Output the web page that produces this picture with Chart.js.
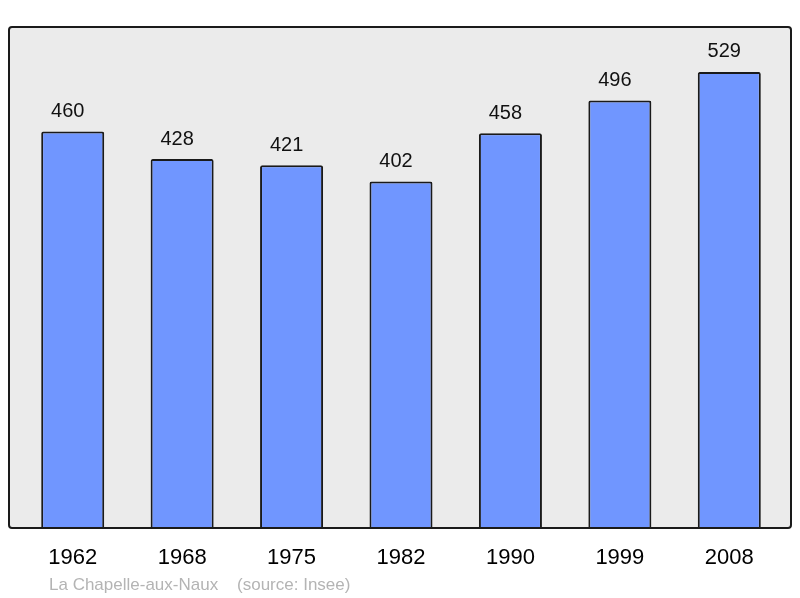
<!DOCTYPE html>
<html><head><meta charset="utf-8">
<script src="https://cdn.jsdelivr.net/npm/chart.js@4/dist/chart.umd.min.js"></script>
<style>html,body{margin:0;padding:0;background:#fff;}canvas{display:block;}</style>
</head><body>
<canvas id="c" width="800" height="598"></canvas>
<script>
const years = ["1962","1968","1975","1982","1990","1999","2008"];
const population = [460, 428, 421, 402, 458, 496, 529];
const footerText = "La Chapelle-aux-Naux    (source: Insee)";

const FONT = "'Liberation Sans', Arial, sans-serif";

function framePath(ctx) {
  const x0 = 9, y0 = 27, x1 = 791, y1 = 528, r = 3;
  ctx.beginPath();
  ctx.moveTo(x0 + r, y0);
  ctx.lineTo(x1 - r, y0);
  ctx.quadraticCurveTo(x1, y0, x1, y0 + r);
  ctx.lineTo(x1, y1 - r);
  ctx.quadraticCurveTo(x1, y1, x1 - r, y1);
  ctx.lineTo(x0 + r, y1);
  ctx.quadraticCurveTo(x0, y1, x0, y1 - r);
  ctx.lineTo(x0, y0 + r);
  ctx.quadraticCurveTo(x0, y0, x0 + r, y0);
  ctx.closePath();
}

const framePlugin = {
  id: 'frame',
  beforeDraw(chart) {
    const ctx = chart.ctx;
    ctx.save();
    framePath(ctx);
    ctx.fillStyle = '#ebebeb';
    ctx.fill();
    ctx.restore();
  },
  afterDatasetsDraw(chart) {
    const ctx = chart.ctx;
    ctx.save();
    framePath(ctx);
    ctx.lineWidth = 2;
    ctx.strokeStyle = '#1a1a1a';
    ctx.stroke();

    const meta = chart.getDatasetMeta(0);
    ctx.font = "20px " + FONT;
    ctx.fillStyle = '#111';
    ctx.textAlign = 'center';
    ctx.textBaseline = 'middle';
    meta.data.forEach((bar, i) => {
      ctx.fillText(String(population[i]), bar.x - 5, bar.y - 20);
    });
    ctx.font = "17px " + FONT;
    ctx.fillStyle = '#b4b4b4';
    ctx.textAlign = 'left';
    ctx.fillText(footerText, 49, 585);
    ctx.restore();
  }
};

new Chart(document.getElementById('c'), {
  type: 'bar',
  data: {
    labels: years,
    datasets: [{
      data: population,
      backgroundColor: '#7096ff',
      borderColor: '#1a1a1a',
      borderWidth: 2,
      borderSkipped: 'bottom',
      borderRadius: 2,
      barPercentage: 0.576,
      categoryPercentage: 1.0
    }]
  },
  options: {
    responsive: false,
    animation: false,
    devicePixelRatio: 1,
    layout: { padding: { left: 18, right: 16, top: 27, bottom: 11 } },
    plugins: { legend: { display: false }, tooltip: { enabled: false }, title: { display: false } },
    scales: {
      x: {
        grid: { display: false, drawTicks: false },
        border: { display: false },
        ticks: { color: '#000', font: { family: FONT, size: 22 }, padding: 16 }
      },
      y: {
        display: false,
        min: 0,
        max: 581
      }
    }
  },
  plugins: [framePlugin]
});
</script>
</body></html>
